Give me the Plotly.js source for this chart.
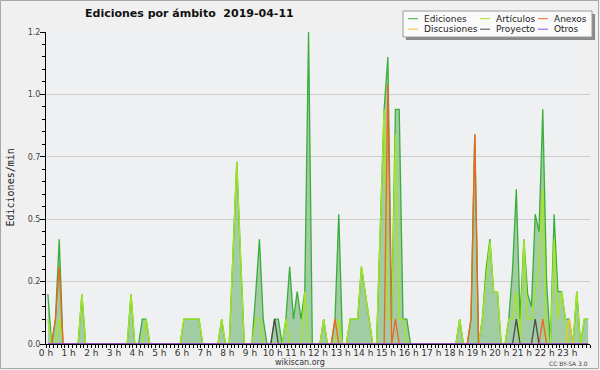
<!DOCTYPE html>
<html><head><meta charset="utf-8">
<script src="https://cdn.plot.ly/plotly-3.0.1.min.js"></script>
<style>html,body{margin:0;padding:0;background:#f0f0f0}#chart{width:600px;height:370px}</style>
</head><body><div id="chart"></div>
<script>
// x ticks: one label per hour (each bin = 10 minutes)
const hourTickLabels = ["0 h","1 h","2 h","3 h","4 h","5 h","6 h","7 h","8 h","9 h","10 h","11 h",
  "12 h","13 h","14 h","15 h","16 h","17 h","18 h","19 h","20 h","21 h","22 h","23 h"];
const yTickValues = [0, 0.25, 0.5, 0.75, 1.0, 1.25];
const yTickLabels = ["0.0", "0.2", "0.5", "0.7", "1.0", "1.2"];

// edits per minute, 10-minute bins (144 per day)
const ediciones = [
  0.2,0,0.1,0.42,0,0,0,0,0,0.2,0,0,
  0,0,0,0,0,0,0,0,0,0,0.2,0,
  0,0.1,0.1,0,0,0,0,0,0,0,0,0,
  0.1,0.1,0.1,0.1,0.1,0,0,0,0,0,0.1,0,
  0,0.35,0.73,0.35,0,0,0,0.2,0.42,0.1,0,0,
  0.1,0.1,0,0.1,0.31,0.1,0.21,0.1,0.21,1.25,0,0,
  0,0.1,0,0,0.1,0.52,0,0,0.1,0.1,0.1,0.31,
  0.2,0.1,0,0,0.45,0.94,1.15,0.1,0.94,0.94,0.1,0.1,
  0,0,0,0,0,0,0,0,0,0,0,0,
  0,0.1,0,0,0.1,0.84,0,0.1,0.3,0.42,0.21,0.21,
  0,0,0.1,0.3,0.62,0.1,0.42,0.2,0.15,0.52,0.45,0.94,
  0.25,0,0.52,0.21,0.21,0.1,0.1,0,0.21,0,0.1,0.1
];
const articulos = [
  0.1,0,0,0.1,0,0,0,0,0,0.2,0,0,
  0,0,0,0,0,0,0,0,0,0,0.2,0,
  0,0,0.1,0,0,0,0,0,0,0,0,0,
  0.1,0.1,0.1,0.1,0.1,0,0,0,0,0,0.1,0,
  0,0.35,0.73,0.35,0,0,0,0.1,0.1,0,0,0,
  0,0,0,0.1,0,0,0,0,0.21,0,0,0,
  0,0.1,0,0,0,0.1,0,0,0.1,0.1,0.1,0.31,
  0.2,0.1,0,0,0.45,0.94,0.1,0.1,0.84,0.1,0.1,0,
  0,0,0,0,0,0,0,0,0,0,0,0,
  0,0.1,0,0,0,0,0,0.1,0.25,0.41,0.21,0.21,
  0,0,0.1,0.1,0.21,0,0.42,0.1,0.1,0.2,0.31,0.62,
  0,0,0.42,0.1,0.21,0.1,0,0,0.21,0,0.1,0.1
];
const anexos = [
  0,0,0.1,0.31,0,0,0,0,0,0,0,0,
  0,0,0,0,0,0,0,0,0,0,0,0,
  0,0,0,0,0,0,0,0,0,0,0,0,
  0,0,0,0,0,0,0,0,0,0,0,0,
  0,0,0,0,0,0,0,0,0,0,0,0,
  0,0,0,0,0,0,0,0,0,0,0,0,
  0,0,0,0,0.1,0,0,0,0,0,0,0,
  0,0,0,0,0,0,1.04,0,0.1,0,0,0,
  0,0,0,0,0,0,0,0,0,0,0,0,
  0,0,0,0,0.1,0.84,0,0,0,0,0,0,
  0,0,0,0,0,0,0,0,0,0,0,0.1,
  0,0,0,0,0,0,0,0,0,0,0,0
];
const discusiones = [
  0,0,0,0,0,0,0,0,0,0,0,0,
  0,0,0,0,0,0,0,0,0,0,0,0,
  0,0,0,0,0,0,0,0,0,0,0,0,
  0,0,0,0,0,0,0,0,0,0,0,0,
  0,0,0,0,0,0,0,0,0,0,0,0,
  0,0,0,0,0,0,0,0,0,0,0,0,
  0,0,0,0,0,0,0,0,0,0,0,0,
  0,0,0,0,0,0,0,0,0,0,0,0,
  0,0,0,0,0,0,0,0,0,0,0,0,
  0,0,0,0,0,0,0,0,0,0,0,0,
  0,0,0,0,0,0,0,0,0,0,0,0,
  0,0,0,0,0,0,0.1,0,0,0,0,0
];
const proyecto = [
  0,0,0,0,0,0,0,0,0,0,0,0,
  0,0,0,0,0,0,0,0,0,0,0,0,
  0,0,0,0,0,0,0,0,0,0,0,0,
  0,0,0,0,0,0,0,0,0,0,0,0,
  0,0,0,0,0,0,0,0,0,0,0,0,
  0.1,0,0,0,0,0,0,0,0,0,0,0,
  0,0,0,0,0,0,0,0,0,0,0,0,
  0,0,0,0,0,0,0,0,0,0,0,0,
  0,0,0,0,0,0,0,0,0,0,0,0,
  0,0,0,0,0,0,0,0,0,0,0,0,
  0,0,0,0,0.1,0,0,0,0,0.1,0,0,
  0,0,0,0,0,0,0,0,0,0,0,0
];
const otros = new Array(144).fill(0);

const seriesNames = ["Ediciones", "Artículos", "Anexos", "Discusiones", "Proyecto", "Otros"];
const seriesColors = ["#3aae3a", "#a6e61e", "#f0641e", "#f2c232", "#4a4a4a", "#9a4ae6"];

const bins = ediciones.map((_, i) => i + 0.5);
const hourTicks = hourTickLabels.map((_, h) => h * 6);

const data = [
  {x: bins, y: ediciones, type: "scatter", mode: "lines", fill: "tozeroy",
   fillcolor: "rgba(80,165,80,0.48)", line: {color: seriesColors[0], width: 1.3}, name: seriesNames[0]},
  {x: bins, y: articulos, type: "scatter", mode: "lines", line: {color: seriesColors[1], width: 1.3}, name: seriesNames[1]},
  {x: bins, y: anexos, type: "scatter", mode: "lines", line: {color: seriesColors[2], width: 1.3}, name: seriesNames[2]},
  {x: bins, y: discusiones, type: "scatter", mode: "lines", line: {color: seriesColors[3], width: 1.3}, name: seriesNames[3]},
  {x: bins, y: proyecto, type: "scatter", mode: "lines", line: {color: seriesColors[4], width: 1.3}, name: seriesNames[4]},
  {x: bins, y: otros, type: "scatter", mode: "lines", line: {color: seriesColors[5], width: 1.3}, name: seriesNames[5]}
];

// pixel helpers for decorations (plot area: x 46..590, y 32..344)
const L = 46, R = 590, T = 32, B = 344;
const px = v => (v - L) / (R - L);
const py = v => (B - v) / (B - T);

const shapes = [
  {type: "rect", xref: "paper", yref: "paper", x0: px(0.5), x1: px(598.5), y0: py(0.5), y1: py(368.5),
   line: {color: "#a8a8a8", width: 1}, fillcolor: "rgba(0,0,0,0)", layer: "below"},
  {type: "rect", xref: "paper", yref: "paper", x0: px(406), x1: px(595), y0: py(14), y1: py(40),
   line: {width: 0}, fillcolor: "#8a8a8a"},
  {type: "rect", xref: "paper", yref: "paper", x0: px(403), x1: px(592), y0: py(11), y1: py(37),
   line: {color: "#9a9a9a", width: 1}, fillcolor: "#fafafa"}
];
const annotations = [
  {text: "Ediciones/min", xref: "paper", yref: "paper", x: px(9.5), y: 0.5, textangle: -90,
   showarrow: false, font: {family: "DejaVu Sans Mono", size: 10, color: "#222"}, xanchor: "center", yanchor: "middle"},
  {text: "wikiscan.org", xref: "paper", yref: "paper", x: px(300), y: py(362), showarrow: false,
   font: {family: "DejaVu Sans", size: 8, color: "#333"}, xanchor: "center", yanchor: "middle"},
  {text: "CC BY-SA 3.0", xref: "paper", yref: "paper", x: px(590), y: py(363), showarrow: false,
   font: {family: "DejaVu Sans", size: 6, color: "#444"}, xanchor: "right", yanchor: "middle"}
];
// manual legend (3 columns x 2 rows)
const legCols = [[408, 424], [480, 496], [538, 554]];
const legRows = [18.7, 29.2];
seriesNames.forEach((nm, k) => {
  const col = legCols[k % 3], row = legRows[Math.floor(k / 3)];
  shapes.push({type: "line", xref: "paper", yref: "paper", x0: px(col[0]), x1: px(col[0] + 10),
    y0: py(row), y1: py(row), line: {color: seriesColors[k], width: 1}});
  annotations.push({text: nm, xref: "paper", yref: "paper", x: px(col[1] - 2), y: py(row), showarrow: false,
    xanchor: "left", yanchor: "middle", font: {family: "DejaVu Sans", size: 9, color: "#222"}});
});

const layout = {
  width: 600, height: 370,
  margin: {l: L, r: 600 - R, t: T, b: 370 - B, pad: 0},
  paper_bgcolor: "#f0f0f0", plot_bgcolor: "#eef0f2",
  showlegend: false,
  title: {text: "Ediciones por ámbito \u00a02019-04-11", x: 85 / 600, xanchor: "left", xref: "container",
    y: 1 - 13.3 / 370, yanchor: "middle", yref: "container",
    font: {family: "DejaVu Sans", size: 11, color: "#111", weight: "bold"}},
  xaxis: {range: [0, 144], tickmode: "array", tickvals: hourTicks, ticktext: hourTickLabels,
    ticks: "outside", ticklen: 3, tickwidth: 1, tickcolor: "#000", ticklabelstandoff: -3,
    minor: {dtick: 1, tick0: 0, ticks: "outside", ticklen: 3, tickwidth: 1, tickcolor: "#000", showgrid: false},
    showline: true, linecolor: "#000", linewidth: 1, showgrid: false, zeroline: false,
    tickfont: {family: "DejaVu Sans", size: 9, color: "#333"}, fixedrange: true},
  yaxis: {range: [0, 1.25], tickmode: "array", tickvals: yTickValues, ticktext: yTickLabels,
    ticks: "outside", ticklen: 5, tickwidth: 1, tickcolor: "#000", ticklabelstandoff: -2,
    minor: {dtick: 0.05, tick0: 0, ticks: "outside", ticklen: 3, tickwidth: 1, tickcolor: "#000", showgrid: false},
    showline: true, linecolor: "#000", linewidth: 1, showgrid: true, gridcolor: "#cdcdcd", gridwidth: 1,
    zeroline: false, tickfont: {family: "DejaVu Sans", size: 8, color: "#444"}, fixedrange: true},
  shapes: shapes,
  annotations: annotations
};

Plotly.newPlot("chart", data, layout, {displayModeBar: false, staticPlot: true});
</script>
</body></html>
